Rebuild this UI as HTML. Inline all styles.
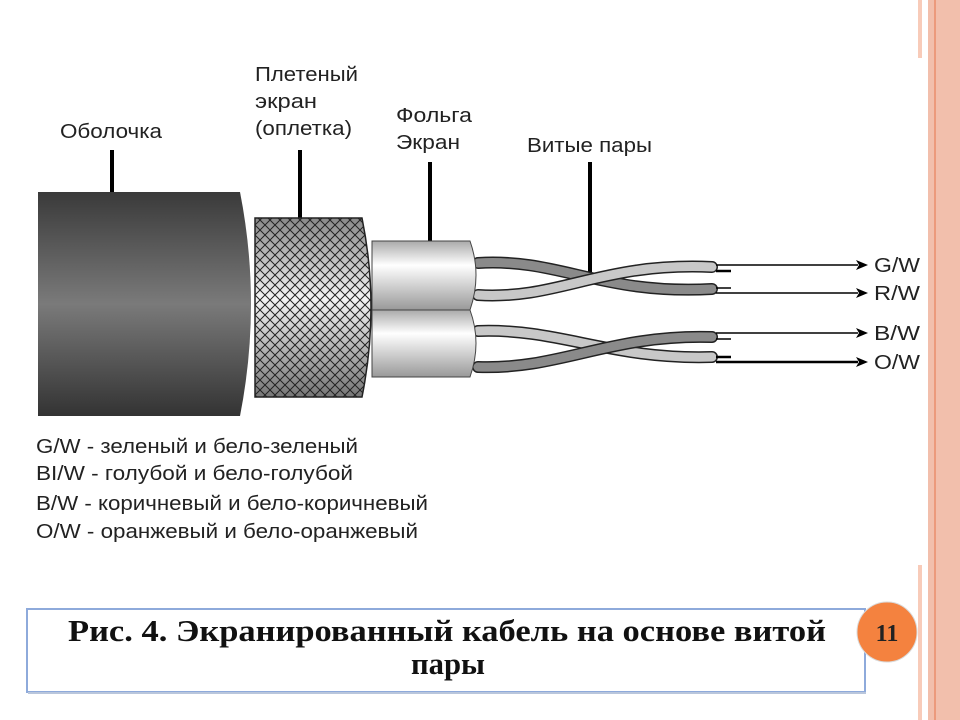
<!DOCTYPE html>
<html><head><meta charset="utf-8"><style>
html,body{margin:0;padding:0;background:#fff;width:960px;height:720px;overflow:hidden}
svg{display:block}
.l{font-family:"Liberation Sans Narrow","Liberation Sans",sans-serif;font-size:20px;fill:#222}
</style></head><body>
<svg width="960" height="720" viewBox="0 0 960 720" xmlns="http://www.w3.org/2000/svg">
<defs>
<linearGradient id="jk" x1="0" y1="0" x2="0" y2="1">
<stop offset="0" stop-color="#3a3a3a"/><stop offset="0.5" stop-color="#7a7a7a"/><stop offset="1" stop-color="#333"/></linearGradient>
<linearGradient id="br" x1="0" y1="0" x2="0" y2="1">
<stop offset="0" stop-color="#888"/><stop offset="0.45" stop-color="#f4f4f4"/><stop offset="1" stop-color="#777"/></linearGradient>
<linearGradient id="fo" x1="0" y1="0" x2="0" y2="1">
<stop offset="0" stop-color="#aaa"/><stop offset="0.35" stop-color="#fff"/><stop offset="1" stop-color="#999"/></linearGradient>
<pattern id="mesh" width="10" height="10" patternUnits="userSpaceOnUse">
<path d="M0 0L10 10M10 0L0 10" stroke="#222" stroke-width="1"/></pattern>
</defs>
<rect x="928" y="0" width="32" height="720" fill="#f2bfac"/>
<rect x="934" y="0" width="2" height="720" fill="#ec9a7c"/>
<rect x="918" y="0" width="4" height="58" fill="#f8cbb9"/>
<rect x="918" y="565" width="4" height="155" fill="#f8cbb9"/>
<g stroke="#000" stroke-width="4">
<line x1="112" y1="150" x2="112" y2="193"/>
<line x1="300" y1="150" x2="300" y2="219"/>
<line x1="430" y1="162" x2="430" y2="242"/>
<line x1="590" y1="162" x2="590" y2="272"/>
</g>
<g fill="none" stroke-linecap="round">
<path d="M478 263 C560 258,600 295,712 289" stroke="#222" stroke-width="12"/>
<path d="M478 263 C560 258,600 295,712 289" stroke="#8a8a8a" stroke-width="9"/>
<path d="M478 295 C560 300,600 262,712 267" stroke="#222" stroke-width="12"/>
<path d="M478 295 C560 300,600 262,712 267" stroke="#c8c8c8" stroke-width="9"/>
<path d="M478 331 C560 328,610 360,712 357" stroke="#222" stroke-width="12"/>
<path d="M478 331 C560 328,610 360,712 357" stroke="#c8c8c8" stroke-width="9"/>
<path d="M478 367 C560 370,610 334,712 337" stroke="#222" stroke-width="12"/>
<path d="M478 367 C560 370,610 334,712 337" stroke="#8a8a8a" stroke-width="9"/>
</g>
<path d="M372 241 H470 Q482 275 470 310 H372 Z" fill="url(#fo)" stroke="#444" stroke-width="1"/>
<path d="M372 310 H470 Q482 343 470 377 H372 Z" fill="url(#fo)" stroke="#444" stroke-width="1"/>
<path d="M255 218 H362 Q380 307 362 397 H255 Z" fill="url(#br)"/>
<path d="M255 218 H362 Q380 307 362 397 H255 Z" fill="url(#mesh)" stroke="#222" stroke-width="1.5"/>
<path d="M38 192 H240 Q262 304 240 416 H38 Z" fill="url(#jk)"/>
<g stroke="#000" stroke-width="1.5">
<line x1="716" y1="271" x2="731" y2="271" stroke-width="2.5"/>
<line x1="716" y1="288" x2="731" y2="288"/>
<line x1="716" y1="339" x2="731" y2="339"/>
<line x1="716" y1="357" x2="731" y2="357" stroke-width="2.5"/>
<line x1="716" y1="265" x2="858" y2="265"/>
<line x1="716" y1="293" x2="858" y2="293"/>
<line x1="716" y1="333" x2="858" y2="333"/>
<line x1="716" y1="362" x2="858" y2="362" stroke-width="2.5"/>
</g>
<g fill="#000">
<path d="M856 260 L868 265 L856 270 L859 265Z"/>
<path d="M856 288 L868 293 L856 298 L859 293Z"/>
<path d="M856 328 L868 333 L856 338 L859 333Z"/>
<path d="M856 357 L868 362 L856 367 L859 362Z"/>
</g>
<text class="l" x="874" y="272" textLength="46" lengthAdjust="spacingAndGlyphs">G/W</text>
<text class="l" x="874" y="300" textLength="46" lengthAdjust="spacingAndGlyphs">R/W</text>
<text class="l" x="874" y="340" textLength="46" lengthAdjust="spacingAndGlyphs">B/W</text>
<text class="l" x="874" y="369" textLength="46" lengthAdjust="spacingAndGlyphs">O/W</text>
<text class="l" x="60" y="138" textLength="102" lengthAdjust="spacingAndGlyphs">Оболочка</text>
<text class="l" x="255" y="81" textLength="103" lengthAdjust="spacingAndGlyphs">Плетеный</text>
<text class="l" x="255" y="108" textLength="62" lengthAdjust="spacingAndGlyphs">экран</text>
<text class="l" x="255" y="135" textLength="97" lengthAdjust="spacingAndGlyphs">(оплетка)</text>
<text class="l" x="396" y="122" textLength="76" lengthAdjust="spacingAndGlyphs">Фольга</text>
<text class="l" x="396" y="149" textLength="64" lengthAdjust="spacingAndGlyphs">Экран</text>
<text class="l" x="527" y="152" textLength="125" lengthAdjust="spacingAndGlyphs">Витые пары</text>
<text class="l" x="36" y="453" textLength="322" lengthAdjust="spacingAndGlyphs">G/W - зеленый и бело-зеленый</text>
<text class="l" x="36" y="480" textLength="317" lengthAdjust="spacingAndGlyphs">BI/W - голубой и бело-голубой</text>
<text class="l" x="36" y="510" textLength="392" lengthAdjust="spacingAndGlyphs">B/W - коричневый и бело-коричневый</text>
<text class="l" x="36" y="538" textLength="382" lengthAdjust="spacingAndGlyphs">O/W - оранжевый и бело-оранжевый</text>
<rect x="27" y="609" width="838" height="83" fill="#fff" stroke="#8eaadb" stroke-width="2"/>
<line x1="28" y1="693" x2="866" y2="693" stroke="#b9c6dc" stroke-width="2"/>
<text x="68" y="641" font-family="Liberation Serif,serif" font-weight="bold" font-size="31" fill="#111" textLength="758" lengthAdjust="spacingAndGlyphs">Рис. 4. Экранированный кабель на основе витой</text>
<text x="411" y="674" font-family="Liberation Serif,serif" font-weight="bold" font-size="31" fill="#111" textLength="74" lengthAdjust="spacingAndGlyphs">пары</text>
<circle cx="887" cy="632" r="30" fill="#f4823f" stroke="#d9d9d9" stroke-width="1"/>
<text x="887" y="641" text-anchor="middle" font-family="Liberation Serif,serif" font-weight="bold" font-size="24" fill="#222">11</text>
</svg>
</body></html>
